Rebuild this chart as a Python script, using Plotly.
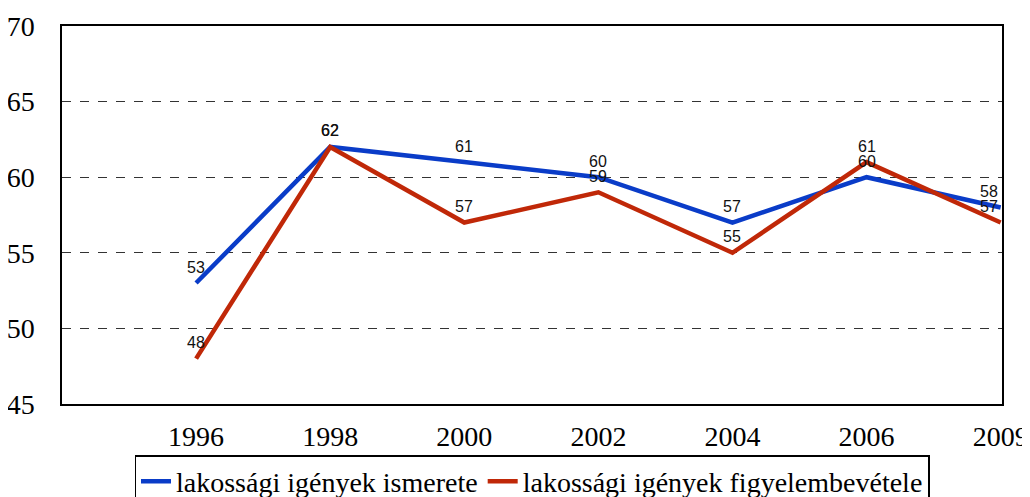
import plotly.graph_objects as go

years = ["1996", "1998", "2000", "2002", "2004", "2006", "2009"]
ismerete = [53, 62, 61, 60, 57, 60, 58]
figyelembe = [48, 62, 57, 59, 55, 61, 57]
names = ["lakossági igények ismerete", "lakossági igények figyelembevétele"]
colors = ["#0a3cc8", "#c02808"]

fig = go.Figure()
annotations = []
for vals, name, col in [(ismerete, names[0], colors[0]), (figyelembe, names[1], colors[1])]:
    xs = list(range(len(years)))
    fig.add_trace(go.Scatter(
        x=xs, y=vals, name=name, mode="lines",
        line=dict(color=col, width=4.5),
    ))
    for i, v in zip(xs, vals):
        annotations.append(dict(
            x=i, y=v, xref="x", yref="y", text=str(v), showarrow=False,
            yshift=16, xshift=-12 if i == len(xs) - 1 else 0,
            font=dict(family="Liberation Sans", size=16, color="#111"),
        ))

# page body has an 8px default margin; figure sized to fill the 1030x497 window
fig.update_layout(
    width=1022, height=489,
    margin=dict(l=54, r=28, t=18, b=93, autoexpand=False),
    paper_bgcolor="white", plot_bgcolor="white",
    showlegend=True,
    annotations=annotations,
    legend=dict(
        orientation="h", x=0.5, xanchor="center", y=-0.135, yanchor="top",
        bordercolor="black", borderwidth=1.5,
        font=dict(family="Liberation Serif", size=28, color="black"),
        itemwidth=30, tracegroupgap=0,
    ),
)
fig.update_xaxes(
    range=[-1, 6.01], tickmode="array", tickvals=list(range(len(years))), ticktext=years,
    showgrid=False, zeroline=False,
    showline=True, linecolor="black", linewidth=2, mirror=True,
    ticks="", ticklabelstandoff=6,
    tickfont=dict(family="Liberation Serif", size=28, color="black"),
)
fig.update_yaxes(
    range=[45, 70], dtick=5, tick0=45,
    showgrid=True, gridcolor="#333", griddash="dash", gridwidth=1,
    zeroline=False,
    showline=True, linecolor="black", linewidth=1.5, mirror=True,
    ticks="", ticklabelstandoff=20,
    tickfont=dict(family="Liberation Serif", size=28, color="black"),
)
fig.write_html("out.html")
